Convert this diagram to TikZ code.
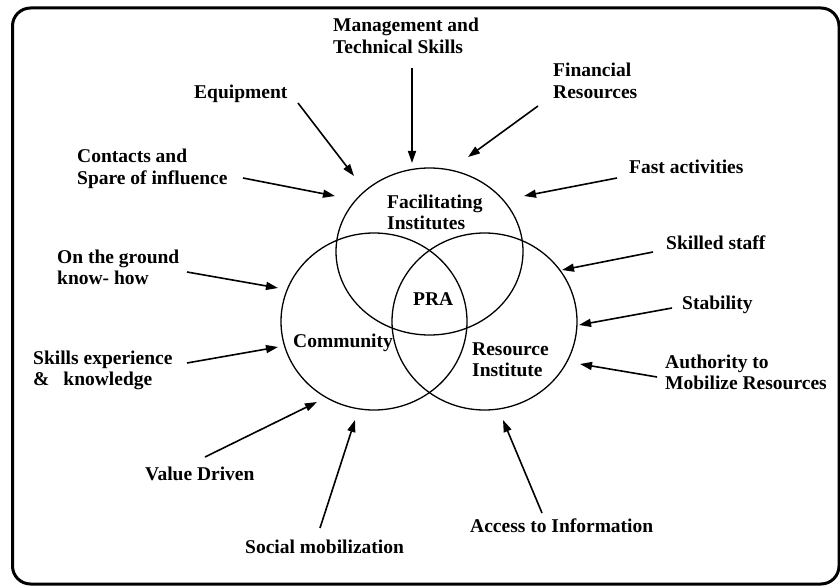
\documentclass[tikz,border=0pt]{standalone}
\usepackage{fontspec}
\setmainfont{Liberation Serif}
\usetikzlibrary{shapes.geometric,arrows.meta}
\newcommand{\twolines}[2]{\vtop{\baselineskip=21.5pt\hbox{#1}\hbox{#2}}}
\begin{document}
\begin{tikzpicture}[x=1pt,y=-1pt,
  lbl/.style={anchor=base west, inner sep=0pt, font=\fontsize{19.5}{21.5}\selectfont\bfseries},
  ring/.style={draw, ellipse, line width=1.3pt, inner sep=0pt},
  arr/.style={line width=1.6pt, -{Triangle[length=12pt,width=8pt]}},
  frame/.style={draw, line width=3pt, rounded corners=18pt}]
\useasboundingbox (0,0) rectangle (840,588);
\draw[frame] (12.5,8) rectangle (839,584);
% circles
\node[ring, minimum width=187pt, minimum height=167pt] (F) at (429.5,251.5) {};
\node[ring, minimum width=186pt, minimum height=177pt] (C) at (374,321.5) {};
\node[ring, minimum width=185pt, minimum height=177pt] (R) at (484.5,321.5) {};
% circle labels
\node[lbl] (fl) at (387,208) {\twolines{Facilitating}{Institutes}};
\node[lbl] (pra) at (413,305) {PRA};
\node[lbl] (cl) at (293,347) {Community};
\node[lbl] (rl) at (472,355) {\twolines{Resource}{Institute}};
% outer labels
\node[lbl] (mgmt) at (333,32) {\twolines{Management and}{Technical Skills}};
\node[lbl] (equip) at (194,99) {Equipment};
\node[lbl] (fin) at (553,77) {\twolines{Financial}{Resources}};
\node[lbl] (cont) at (77,163) {\twolines{Contacts and}{Spare of influence}};
\node[lbl] (fast) at (629,174) {Fast activities};
\node[lbl] (ground) at (57,263) {\twolines{On the ground}{know- how}};
\node[lbl] (staff) at (666,249) {Skilled staff};
\node[lbl] (stab) at (682,309) {Stability};
\node[lbl] (skills) at (33,364) {\twolines{Skills experience}{\&\hspace{14pt}knowledge}};
\node[lbl] (auth) at (665,368) {\twolines{Authority to}{Mobilize Resources}};
\node[lbl] (value) at (145,480) {Value Driven};
\node[lbl] (social) at (245,553) {Social mobilization};
\node[lbl] (access) at (470,532) {Access to Information};
% arrow ends
\coordinate (a1) at (412,68);  \coordinate (b1) at (412,163);
\coordinate (a2) at (298,103); \coordinate (b2) at (354,176);
\coordinate (a3) at (538,106); \coordinate (b3) at (468,157);
\coordinate (a4) at (243,178); \coordinate (b4) at (335,196);
\coordinate (a5) at (617,178); \coordinate (b5) at (524,196);
\coordinate (a6) at (187,272); \coordinate (b6) at (278,288);
\coordinate (a7) at (653,252); \coordinate (b7) at (562,270);
\coordinate (a8) at (672,308); \coordinate (b8) at (579,325);
\coordinate (a9) at (187,363); \coordinate (b9) at (278,347);
\coordinate (a10) at (657,377); \coordinate (b10) at (580,364);
\coordinate (a11) at (205,457); \coordinate (b11) at (317,402);
\coordinate (a12) at (320,528); \coordinate (b12) at (355,420);
\coordinate (a13) at (542,513); \coordinate (b13) at (503,420);
\foreach \i in {1,...,13} {\draw[arr] (a\i) -- (b\i);}
\end{tikzpicture}
\end{document}
